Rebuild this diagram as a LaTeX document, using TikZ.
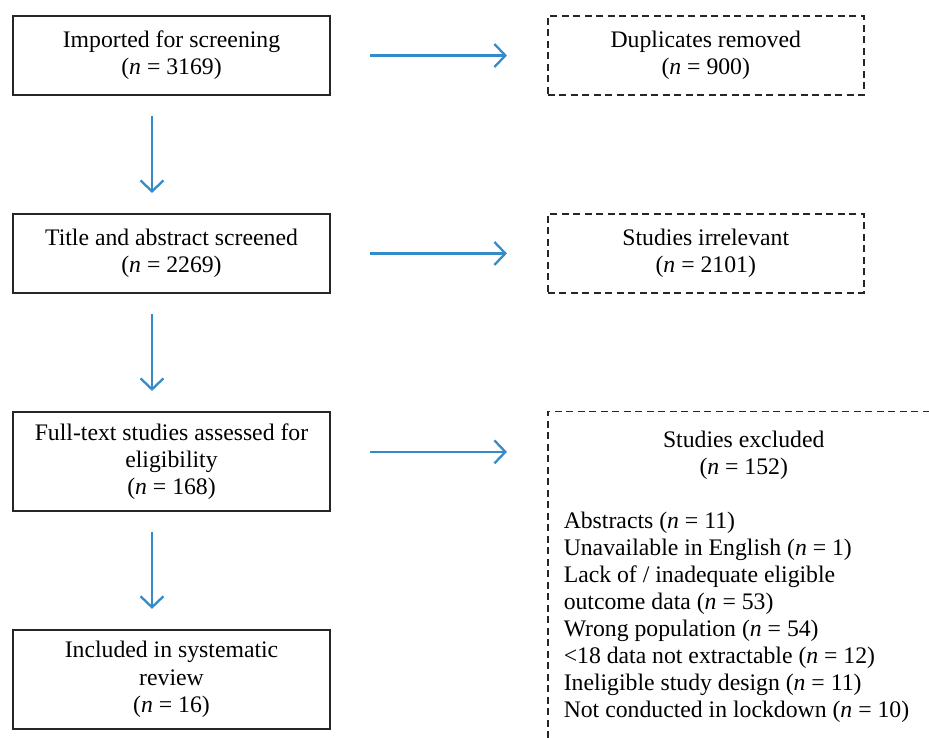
\documentclass[tikz,border=0pt]{standalone}
\usepackage{fontspec}
\setmainfont{Liberation Serif}
\usepackage{tikz}
\usetikzlibrary{arrows.meta, positioning}
\definecolor{flowblue}{RGB}{52,139,201}

\begin{document}
\begin{tikzpicture}[
                node distance=2.34cm,
                font=\fontsize{13.5}{15.4}\selectfont,
                mainbox/.style={draw=black!85, line width=1.1pt, minimum width=6.34cm, minimum height=1.58cm, align=center},
                sidebox/.style={draw=black!85, line width=0.9pt, dash pattern=on 0.14cm off 0.09cm, minimum width=6.32cm, minimum height=1.58cm, align=center},
                flow/.style={-{Straight Barb[length=0.22cm, width=0.46cm]}, draw=flowblue, line width=1.3pt}
            ]
                \useasboundingbox (-3.43,1.11) rectangle ++(18.58,-14.74);

                \node[mainbox] (imported) at (0,0) {Imported for screening\\(\textit{n} = 3169)};
                \node[mainbox, below=of imported] (screened) {Title and abstract screened\\(\textit{n} = 2269)};
                \node[mainbox, below=of screened, minimum height=1.98cm] (fulltext) {Full-text studies assessed for\\eligibility\\(\textit{n} = 168)};
                \node[mainbox, below=of fulltext, minimum height=1.98cm] (included) {Included in systematic\\review\\(\textit{n} = 16)};

                \node[sidebox, right=4.32cm of imported] (duplicates) {Duplicates removed\\(\textit{n} = 900)};
                \node[sidebox, right=4.32cm of screened] (irrelevant) {Studies irrelevant\\(\textit{n} = 2101)};
                \node[sidebox, anchor=north west, inner xsep=0.32cm, inner ysep=0.38cm] (excluded) at ([xshift=4.32cm]fulltext.north east) {%
                    \begin{minipage}[t]{7.2cm}
                    {\centering Studies excluded\\(\textit{n} = 152)\par}
                    \vspace{15.3pt}
                    Abstracts (\textit{n} = 11)\\
                    Unavailable in English (\textit{n} = 1)\\
                    Lack of / inadequate eligible\\
                    outcome data (\textit{n} = 53)\\
                    Wrong population (\textit{n} = 54)\\
                    <18 data not extractable (\textit{n} = 12)\\
                    Ineligible study design (\textit{n} = 11)\\
                    Not conducted in lockdown (\textit{n} = 10)\par
                    \vspace*{1cm}
                    \end{minipage}};

                \draw[flow, shorten <=0.4cm, shorten >=0.4cm] ([xshift=-0.39cm]imported.south) -- ([xshift=-0.39cm]screened.north);
                \draw[flow, shorten <=0.4cm, shorten >=0.4cm] ([xshift=-0.39cm]screened.south) -- ([xshift=-0.39cm]fulltext.north);
                \draw[flow, shorten <=0.4cm, shorten >=0.4cm] ([xshift=-0.39cm]fulltext.south) -- ([xshift=-0.39cm]included.north);
                \draw[flow, shorten <=0.78cm, shorten >=0.8cm] (imported) -- (duplicates);
                \draw[flow, shorten <=0.78cm, shorten >=0.8cm] (screened) -- (irrelevant);
                \draw[flow, shorten <=0.78cm, shorten >=0.8cm] ([yshift=0.19cm]fulltext.east) -- ([yshift=0.19cm]fulltext.east -| excluded.west);
            \end{tikzpicture}
\end{document}
